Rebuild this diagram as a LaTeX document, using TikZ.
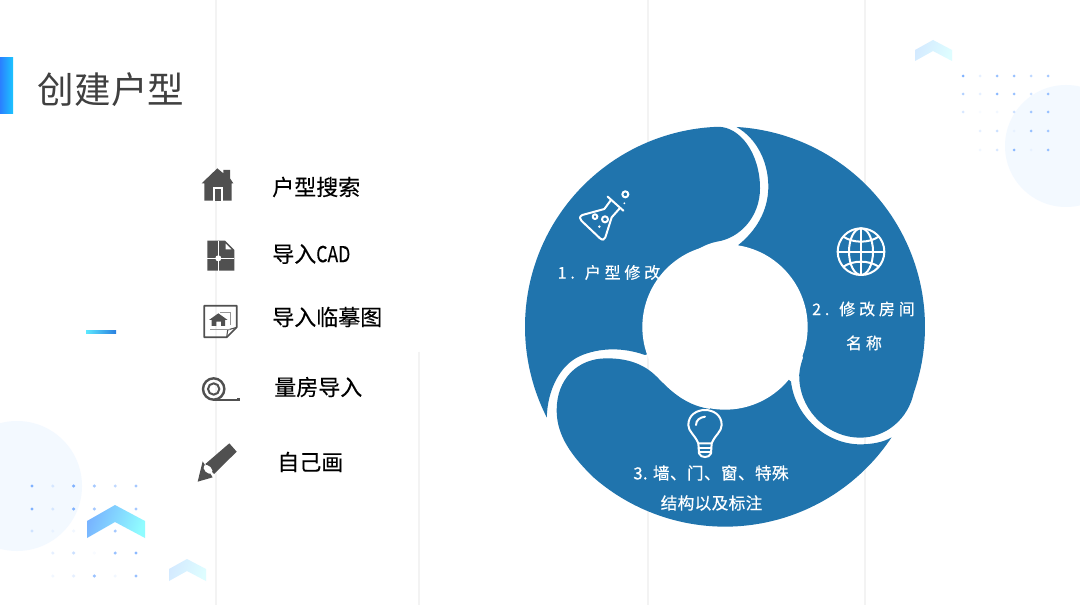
\documentclass[tikz,border=0pt]{standalone}
\usepackage{fontspec}
\setmainfont{Noto Sans CJK SC}
\newfontfamily\lblfont[LetterSpace=24,FakeBold=0.5]{Noto Sans CJK SC}
\newfontfamily\lblfonttwo[LetterSpace=2,FakeBold=0.5]{Noto Sans CJK SC}
\newfontfamily\listfont[FakeBold=0.3]{Noto Sans CJK SC}
\definecolor{wheel}{HTML}{2074AD}
\definecolor{icongray}{HTML}{505050}
\definecolor{gridline}{HTML}{F3F3F3}
\definecolor{softcircle}{HTML}{F3F9FF}
\definecolor{dotblue}{HTML}{7FB2FF}
\definecolor{chevA}{HTML}{78B4FF}
\definecolor{chevB}{HTML}{90FCFF}
\definecolor{chevC}{HTML}{D4EAFF}
\definecolor{chevD}{HTML}{DEFDFF}
\definecolor{barA}{HTML}{2A80FF}
\definecolor{barB}{HTML}{1CC4FF}
\definecolor{accA}{HTML}{5CE8FF}
\definecolor{accB}{HTML}{2A80E0}
\tikzset{
  zw/.style={shift={(510,110)},x=.25pt,y=-.25pt},
  zi/.style={shift={(180,150)},x=.25pt,y=-.25pt},
  vline/.style={gridline,line width=.9pt},
  listtext/.style={font=\listfont\fontsize{16.5}{20}\selectfont,text=black,anchor=west,inner sep=0pt},
  wheeltext/.style={text=white,inner sep=0pt},
  wicon/.style={draw=white,line width=1.5pt,line join=round,line cap=round},
}
\begin{document}
\begin{tikzpicture}[x=.75pt,y=-.75pt]
\useasboundingbox (0,0) rectangle (1080,605);
\fill[white] (0,0) rectangle (1080,605);
% grid lines
\draw[vline] (216,0) -- (216,605);
\draw[vline] (648,0) -- (648,605);
\draw[vline] (865,0) -- (865,605);
\draw[vline] (419,352) -- (419,605);
% soft circles
\fill[softcircle] (17,486) circle[radius=65];
\fill[softcircle] (1066,146) circle[radius=61];
% dots
\foreach \row/\yy/\vals in {0/486/{1,.25,1,.7,.5,.7},1/509/{1,.25,1,.7,.5,.7},2/531/{.3,.1,.1,1,.7,1},3/553/{0,.2,.4,.05,.8,.9},4/576/{0,.1,.2,.8,.1,.8}}{
  \foreach \op [count=\i from 0] in \vals {
    \pgfmathsetmacro{\xx}{32+20.8*\i}
    \fill[dotblue,opacity=\op] (\xx,\yy) circle[radius=1.7];
  }
}
\foreach \row/\yy/\vals in {0/76/{1,.2,.8,.8,.5,.7},1/94/{.6,.2,.9,.8,.4,.8},2/112/{.3,.05,.1,.4,.7,.8},3/131/{0,.2,.4,.1,.8,.7},4/150/{0,.1,.3,.9,.1,.8}}{
  \foreach \op [count=\i from 0] in \vals {
    \pgfmathsetmacro{\xx}{963+17*\i}
    \fill[dotblue,opacity=\op] (\xx,\yy) circle[radius=1.5];
  }
}
% chevrons
\shade[left color=chevA,right color=chevB,shading angle=70] (87,521) -- (115,505) -- (145,521) -- (145,538) -- (115,522) -- (87,538) -- cycle;
\shade[left color=chevC,right color=chevD,shading angle=70] (169,569) -- (187,559) -- (206,569) -- (206,581) -- (187,571) -- (169,581) -- cycle;
\shade[left color=chevC,right color=chevD,shading angle=70] (915,50) -- (933,40) -- (952,50) -- (952,61) -- (933,51) -- (915,61) -- cycle;
% accent bars
\shade[left color=barA,right color=barB] (0,58) rectangle (13,114);
\shade[left color=accA,right color=accB] (86,331) rectangle (116,334);
% title
\node[font=\fontsize{27.4}{32}\selectfont,text=black!75,inner sep=0pt] (title) at (111,89.5) {创建户型};
% list
\node[listtext] (l1) at (272,187) {户型搜索};
\node[listtext] (l2) at (272,254) {导入\scalebox{.8}[1]{CAD}};
\node[listtext] (l3) at (272,317) {导入临摹图};
\node[listtext] (l4) at (274,387) {量房导入};
\node[listtext] (l5) at (277,462) {自己画};
% list icons
\begin{scope}[zi]
  % house
  \fill[icongray] (112,55) -- (130,70) -- (130,60) -- (150,60) -- (150,85) -- (160,100) -- (155,100) -- (155,152) -- (73,152) -- (73,100) -- (65,100) -- cycle;
  \fill[white] (100,112) rectangle (128,152);
  \fill[icongray] (105,118) rectangle (122,152);
  % cad file
  \fill[icongray] (82,272) -- (135,272) -- (163,300) -- (163,362) -- (82,362) -- cycle;
  \fill[white] (137,281) -- (137,298) -- (154,298) -- cycle;
  \fill[white] (113,272) rectangle (117,362);
  \fill[white] (82,323) rectangle (163,327);
  \fill[white] (115,325) circle[radius=9];
  % drawing frame
  \draw[icongray,line width=1.3pt,line join=round] (140,562) -- (73,562) -- (73,467) -- (170,467) -- (170,532) -- cycle;
  \draw[icongray,line width=.8pt] (140,562) -- (143,540) -- (170,532);
  \fill[icongray] (87,510) -- (115,490) -- (143,510) -- (135,510) -- (135,528) -- (123,528) -- (123,515) -- (109,515) -- (109,528) -- (95,528) -- (95,510) -- cycle;
  \draw[icongray!60,line width=.4pt] (120,488) -- (152,488) -- (152,525) (90,538) -- (150,538);
  % tape
  \draw[icongray,line width=1.8pt] (101,717) circle[radius=32];
  \draw[icongray,line width=1.5pt] (101,717) circle[radius=17];
  \draw[icongray,line width=1.8pt] (101,750) -- (175,750) -- (175,743);
  % pencil
  \fill[icongray] (148,880) -- (170,905) -- (102,972) -- (76,942) -- cycle;
  \fill[icongray] (68,934) -- (53,995) -- (98,982) -- cycle;
  \fill[white,rotate around={-45:(84,958)}] (84,958) ellipse[x radius=16,y radius=10];
\end{scope}
% wheel
\begin{scope}[zw]
  \fill[wheel] (110.4,922.4) arc[start angle=-207,end angle=-92,radius=600]
    .. controls (690,50) and (750,130) .. (750,235)
    .. controls (750,320) and (690,385) .. (620,395)
    .. controls (600,399) and (580,407) .. (560,420)
    -- (645,650) -- (405,735)
    .. controls (340,712) and (270,712) .. (210,738)
    .. controls (150,765) and (112,840) .. (110.4,922.4) -- cycle;
  \fill[wheel] (679.5,51) arc[start angle=-86.7,end angle=19.3,radius=600]
    .. controls (1195,925) and (1130,983) .. (1050,983)
    .. controls (960,983) and (875,910) .. (868,810)
    .. controls (866,790) and (870,770) .. (880,740)
    -- (645,650) -- (685,405)
    .. controls (735,365) and (775,305) .. (775,230)
    .. controls (775,155) and (740,85) .. (679.5,51) -- cycle;
  \fill[wheel] (1144.7,982) arc[start angle=33.6,end angle=131,radius=600]
    .. controls (165,1020) and (140,960) .. (140,900)
    .. controls (140,810) and (200,745) .. (290,745)
    .. controls (350,745) and (400,760) .. (440,800)
    .. controls (475,835) and (520,885) .. (600,897)
    -- (645,650) -- (843,815)
    .. controls (855,920) and (950,1003) .. (1050,1003)
    .. controls (1085,1003) and (1120,997) .. (1144.7,982) -- cycle;
  \fill[white] (645,651) circle[radius=248];
  % flask
  \draw[wicon] (293,260) -- (340,302);
  \draw[wicon] (303,270) -- (283,297) -- (217,315) .. controls (208,320) and (208,326) .. (214,332) -- (270,385) .. controls (277,391) and (284,390) .. (286,382) -- (305,322) -- (330,294);
  \draw[wicon] (255,320) circle[radius=7];
  \draw[wicon] (285,328) circle[radius=9];
  \fill[white] (268,350) circle[radius=4];
  \draw[wicon] (346,253) circle[radius=9];
  \fill[white] (343,280) circle[radius=3];
  % globe
  \draw[wicon] (1053,425) circle[radius=70];
  \draw[wicon] (1053,425) ellipse[x radius=36,y radius=70];
  \draw[wicon] (1053,355) -- (1053,495) (983,425) -- (1123,425);
  \draw[wicon] (1000,380) .. controls (1030,400) and (1076,400) .. (1106,380);
  \draw[wicon] (1000,470) .. controls (1030,450) and (1076,450) .. (1106,470);
  % bulb
  \draw[wicon] (565,1000) .. controls (555,975) and (535,965) .. (535,945) .. controls (535,885) and (635,885) .. (635,945) .. controls (635,965) and (615,975) .. (605,1000) -- cycle;
  \draw[wicon] (558,945) .. controls (558,930) and (570,922) .. (585,920);
  \draw[wicon] (565,1000) -- (567,1030) .. controls (572,1045) and (598,1045) .. (603,1030) -- (605,1000);
  \draw[wicon] (566,1013) -- (604,1013) (567,1027) -- (603,1027);
\end{scope}
% wheel labels
\node[wheeltext,font=\lblfont\fontsize{12}{14}\selectfont] (t1) at (609,272.5) {1. 户型修改};
\node[wheeltext,font=\lblfont\fontsize{12}{14}\selectfont] (t2) at (863.5,309) {2. 修改房间};
\node[wheeltext,font=\lblfont\fontsize{12}{14}\selectfont] (t2b) at (864,343) {名称};
\node[wheeltext,font=\lblfonttwo\fontsize{12.5}{15}\selectfont] (t3) at (711,473) {3. 墙、门、窗、特殊};
\node[wheeltext,font=\lblfonttwo\fontsize{12.5}{15}\selectfont] (t3b) at (711.5,503) {结构以及标注};
\end{tikzpicture}
\end{document}
